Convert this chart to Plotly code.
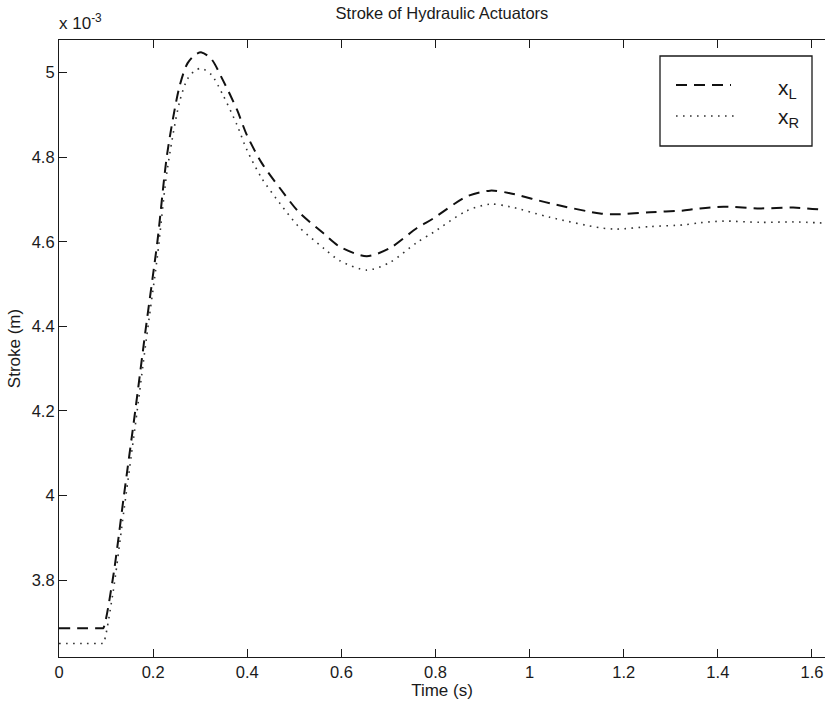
import plotly.graph_objects as go

# Time (s)
time_s = [0.0, 0.050, 0.091, 0.094, 0.114, 0.138, 0.162, 0.185, 0.209, 0.230,
          0.256, 0.273, 0.290, 0.303, 0.324, 0.348, 0.378, 0.399, 0.431, 0.470,
          0.509, 0.562, 0.597, 0.654, 0.703, 0.760, 0.795, 0.866, 0.916, 0.958,
          1.043, 1.150, 1.185, 1.256, 1.327, 1.362, 1.412, 1.490, 1.560, 1.630]

# Stroke in units of 1e-3 m
x_L_mm = [3.686, 3.686, 3.686, 3.686, 3.800, 4.000, 4.200, 4.400, 4.600, 4.809,
          4.967, 5.022, 5.043, 5.048, 5.032, 4.983, 4.913, 4.853, 4.786, 4.726,
          4.671, 4.620, 4.588, 4.566, 4.585, 4.632, 4.655, 4.707, 4.721, 4.715,
          4.691, 4.667, 4.665, 4.670, 4.674, 4.679, 4.683, 4.679, 4.681, 4.675]

x_R_mm = [3.650, 3.650, 3.650, 3.650, 3.765, 3.965, 4.165, 4.365, 4.565, 4.770,
          4.930, 4.985, 5.006, 5.010, 4.995, 4.948, 4.877, 4.818, 4.750, 4.690,
          4.636, 4.585, 4.555, 4.533, 4.551, 4.598, 4.622, 4.673, 4.689, 4.683,
          4.658, 4.633, 4.630, 4.636, 4.640, 4.645, 4.649, 4.646, 4.647, 4.644]

x_L = [v * 1e-3 for v in x_L_mm]
x_R = [v * 1e-3 for v in x_R_mm]

x_ticks = [0, 0.2, 0.4, 0.6, 0.8, 1.0, 1.2, 1.4, 1.6]
x_tick_text = ["0", "0.2", "0.4", "0.6", "0.8", "1", "1.2", "1.4", "1.6"]
y_ticks_mm = [3.8, 4.0, 4.2, 4.4, 4.6, 4.8, 5.0]
y_tick_text = ["3.8", "4", "4.2", "4.4", "4.6", "4.8", "5"]
y_ticks = [v * 1e-3 for v in y_ticks_mm]

FONT = "Liberation Sans, Arial, sans-serif"
INK = "#1a1a1a"

fig = go.Figure()
fig.add_trace(go.Scatter(x=time_s, y=x_L, mode="lines", name="x_L",
                         line=dict(color="#111111", width=2, dash="11px,7px",
                                   shape="spline", smoothing=0.8),
                         showlegend=False))
fig.add_trace(go.Scatter(x=time_s, y=x_R, mode="lines", name="x_R",
                         line=dict(color="#333333", width=1.6, dash="1.6px,5.4px",
                                   shape="spline", smoothing=0.8),
                         showlegend=False))

W, H = 825, 701
L, R, T, B = 59, 0, 40, 44
pw, ph = W - L - R, H - T - B

def px(xp):
    return (xp - L) / pw

def py(yp):
    return (H - B - yp) / ph

# Legend box (manual, MATLAB style)
fig.add_shape(type="rect", xref="paper", yref="paper",
              x0=px(660), x1=px(812), y0=py(146), y1=py(56),
              line=dict(color=INK, width=1.3), fillcolor="white", layer="above")
fig.add_shape(type="line", xref="paper", yref="paper",
              x0=px(676), x1=px(731), y0=py(85), y1=py(85),
              line=dict(color="#111111", width=2, dash="11px,7px"), layer="above")
fig.add_shape(type="line", xref="paper", yref="paper",
              x0=px(676), x1=px(735), y0=py(116), y1=py(116),
              line=dict(color="#333333", width=1.6, dash="1.6px,5.4px"), layer="above")
fig.add_annotation(xref="paper", yref="paper", x=px(776), y=py(89),
                   xanchor="left", yanchor="middle", showarrow=False,
                   text="x<sub>L</sub>", font=dict(family=FONT, size=21, color=INK))
fig.add_annotation(xref="paper", yref="paper", x=px(776), y=py(118),
                   xanchor="left", yanchor="middle", showarrow=False,
                   text="x<sub>R</sub>", font=dict(family=FONT, size=21, color=INK))

# Exponent label
fig.add_annotation(xref="paper", yref="paper", x=px(57), y=py(35),
                   xanchor="left", yanchor="bottom", showarrow=False,
                   text="x 10<sup>-3</sup>", font=dict(family=FONT, size=17, color=INK))

fig.update_layout(
    width=W, height=H,
    margin=dict(l=L, r=R, t=T, b=B),
    paper_bgcolor="white", plot_bgcolor="white",
    font=dict(family=FONT, size=16, color=INK),
    title=dict(text="Stroke of Hydraulic Actuators", x=0.5, xref="paper",
               y=1 - 13 / H, yanchor="middle",
               font=dict(family=FONT, size=16.5, color=INK)),
    xaxis=dict(range=[0, (W - L) / 470.6], tickvals=x_ticks, ticktext=x_tick_text,
               showgrid=False, zeroline=False, showline=True, linecolor=INK,
               linewidth=1.2, mirror="ticks", ticks="inside", ticklen=8,
               tickcolor=INK, tickwidth=1.2, tickfont=dict(size=16.5),
               title=dict(text="Time (s)", font=dict(size=17), standoff=2)),
    yaxis=dict(range=[3.6179e-3, 5.0773e-3], tickvals=y_ticks, ticktext=y_tick_text,
               showgrid=False, zeroline=False, showline=True, linecolor=INK,
               linewidth=1.2, mirror=False, ticks="inside", ticklen=8,
               tickcolor=INK, tickwidth=1.2, tickfont=dict(size=16.5),
               title=dict(text="Stroke (m)", font=dict(size=17), standoff=6)),
)

fig.write_html("out.html")
